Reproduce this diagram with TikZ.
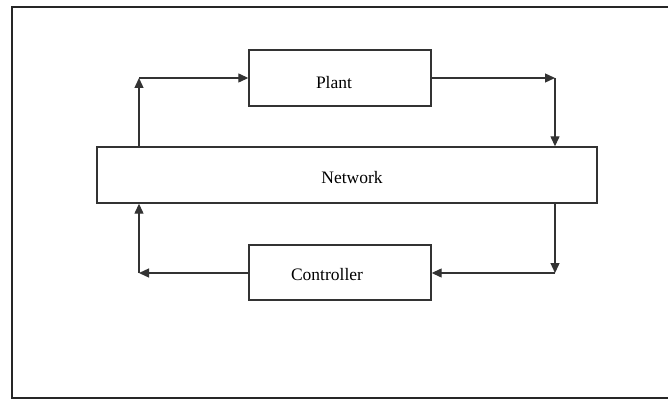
\documentclass[tikz,border=0pt]{standalone}
\usepackage{fontspec}
\setmainfont{Liberation Serif}
\usetikzlibrary{arrows.meta}
\begin{document}
\begin{tikzpicture}[x=1pt,y=-1pt,
  blockbox/.style={draw=black!80,line width=1.4pt,fill=white,inner sep=0pt},
  conn/.style={draw=black!80,line width=1.3pt,-{Triangle[length=10pt,width=9pt]}},
  lbl/.style={font=\fontsize{17.5}{20}\selectfont}]
\useasboundingbox (0,0) rectangle (668,401);
\fill[white] (0,0) rectangle (668,401);
\draw[line width=2.2pt,black!85] (680,7) -- (12,7) -- (12,398) -- (680,398);
% boxes
\node[blockbox,minimum width=182pt,minimum height=56pt] (plant) at (340,78) {};
\node[lbl] (plantlbl) at (334,83) {Plant};
\node[blockbox,minimum width=500pt,minimum height=56pt] (net) at (347,175) {};
\node[lbl] (netlbl) at (352,178) {Network};
\node[blockbox,minimum width=182pt,minimum height=55pt] (ctrl) at (340,272.5) {};
\node[lbl] (ctrllbl) at (327,275) {Controller};
% corners
\coordinate (tl) at (139,78);
\coordinate (tr) at (555,78);
\coordinate (br) at (555,273);
\coordinate (bl) at (139,273);
% connectors
\draw[conn] (net.north -| tl) -- (tl);
\draw[conn] (tl) -- (plant.west |- tl);
\draw[conn] (plant.east |- tr) -- (tr);
\draw[conn] (tr) -- (net.north -| tr);
\draw[conn] (net.south -| br) -- (br);
\draw[conn] (br) -- (ctrl.east |- br);
\draw[conn] (ctrl.west |- bl) -- (bl);
\draw[conn] (bl) -- (net.south -| bl);
\end{tikzpicture}
\end{document}
